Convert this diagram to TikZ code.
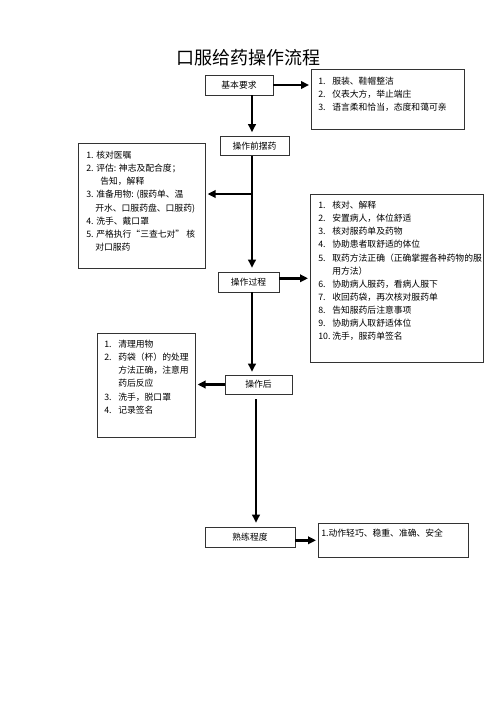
\documentclass[tikz,border=0pt]{standalone}
\usepackage{fontspec}
\newfontfamily\cjk{Noto Sans CJK SC}
\usetikzlibrary{arrows.meta}
\tikzset{every picture/.style={/utils/exec={\cjk}}}
\tikzset{
  stepbox/.style={draw=black!80, line width=0.6pt, inner sep=0pt, minimum height=20pt, font=\fontsize{8.8}{10}\selectfont},
  listbox/.style={draw=black!80, line width=0.6pt, inner sep=0pt, anchor=north west},
  flow/.style={line width=2.4pt, shorten >=2pt, -{Triangle[length=8pt,width=7.5pt]}},
}
\newcommand{\listtext}[5]{%
  \parbox[c][#2][t]{#1}{\fontsize{8.8}{13.1}\selectfont\leftskip=#3\relax\vspace*{#4}\strut #5}}
\newcommand{\itm}[3][14pt]{\makebox[#1][l]{#2}#3}

\begin{document}
\begin{tikzpicture}[x=1pt,y=-1pt]
  \fill[white] (0,0) rectangle (500,707);
  \useasboundingbox (0,0) rectangle (500,707);

  \node (title) at (248,58) {\fontsize{18}{20}\selectfont 口服给药操作流程};

  % steps down the middle
  \node[stepbox, minimum width=68pt] (basic) at (239,85) {基本要求};
  \node[stepbox, minimum width=69pt, minimum height=19pt] (prep) at (254.5,146) {操作前摆药};
  \node[stepbox, minimum width=61pt] (proc) at (248.5,282) {操作过程};
  \node[stepbox, minimum width=67pt, minimum height=19pt] (after) at (258.5,384.5) {操作后};
  \node[stepbox, minimum width=90pt] (skill) at (250,537) {熟练程度};

  % lists beside the steps
  \node[listbox] (basiclist) at (311,69) {\listtext{153pt}{60pt}{7pt}{6.2pt}{%
    \itm{1.}{服装、鞋帽整洁}\\
    \itm{2.}{仪表大方，举止端庄}\\
    \itm{3.}{语言柔和恰当，态度和蔼可亲}}};
  \node[listbox] (preplist) at (78,143) {\listtext{127pt}{125pt}{8pt}{6.2pt}{%
    \itm[10pt]{1.}{核对医嘱}\\
    \itm[10pt]{2.}{评估: 神志及配合度；}\\
    \hspace*{14pt}告知，解释\\
    \itm[10pt]{3.}{准备用物: (服药单、温}\\
    \hspace*{9pt}开水、口服药盘、口服药)\\
    \itm[10pt]{4.}{洗手、戴口罩}\\
    \itm[10pt]{5.}{严格执行“三查七对” 核}\\
    \hspace*{9pt}对口服药}};
  \node[listbox] (proclist) at (310,194) {\listtext{173pt}{168pt}{8pt}{5.2pt}{%
    \itm{1.}{核对、解释}\\
    \itm{2.}{安置病人，体位舒适}\\
    \itm{3.}{核对服药单及药物}\\
    \itm{4.}{协助患者取舒适的体位}\\
    \itm{5.}{取药方法正确（正确掌握各种药物的服}\\
    \hspace*{14pt}用方法）\\
    \itm{6.}{协助病人服药，看病人服下}\\
    \itm{7.}{收回药袋，再次核对服药单}\\
    \itm{8.}{告知服药后注意事项}\\
    \itm{9.}{协助病人取舒适体位}\\
    \itm{10.}{洗手，服药单签名}}};
  \node[listbox] (afterlist) at (97,333) {\listtext{98pt}{104pt}{7pt}{5.2pt}{%
    \itm{1.}{清理用物}\\
    \itm{2.}{药袋（杯）的处理}\\
    \hspace*{14pt}方法正确，注意用\\
    \hspace*{14pt}药后反应\\
    \itm{3.}{洗手，脱口罩}\\
    \itm{4.}{记录签名}}};
  \node[listbox] (skilllist) at (318,523) {\listtext{150pt}{34pt}{3pt}{4.2pt}{%
    1.动作轻巧、稳重、准确、安全}};

  \coordinate (spine) at (252,0);
  \coordinate (spinelow) at (256,0);
  \coordinate (tell) at (252,194);

  \draw[flow, shorten >=4pt] (basic.south -| spine) -- (prep.north -| spine);
  \draw[flow] (basic.east) -- (basic.east -| basiclist.west);
  \draw[flow, shorten >=4pt] (prep.south -| spine) -- (proc.north -| spine);
  \draw[flow] (tell) -- (tell -| preplist.east);
  \draw[flow] (proclist.west -| proc.east) -- (proclist.west);
  \draw[flow, shorten >=3pt] (proc.south -| spine) -- (after.north -| spine);
  \draw[flow] (after.west) -- (after.west -| afterlist.east);
  \draw[flow, shorten <=5pt, shorten >=4pt] (after.south -| spinelow) -- (skill.north -| spinelow);
  \draw[flow] (skill.east |- skilllist.west) -- (skilllist.west);
\end{tikzpicture}
\end{document}
